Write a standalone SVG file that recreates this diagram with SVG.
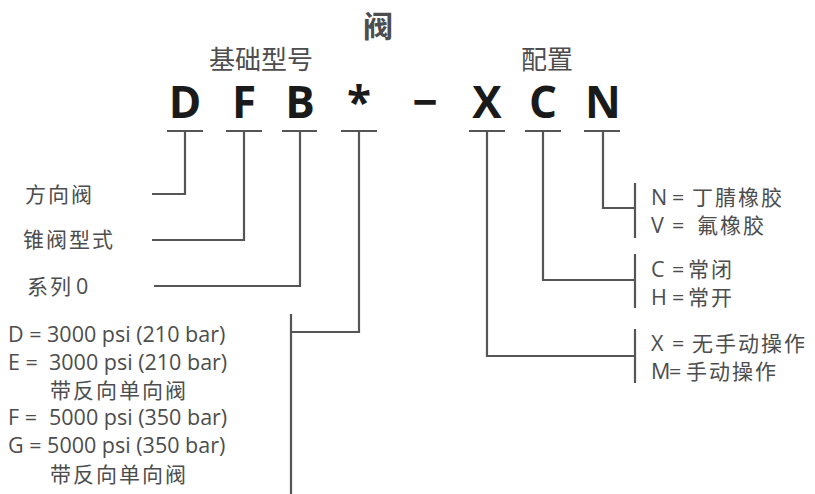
<svg xmlns="http://www.w3.org/2000/svg" width="815" height="494" viewBox="0 0 815 494">
<style>
.ln{stroke:#555;stroke-width:2.2;fill:none}
.t{font-family:"Open Sans","Noto Sans CJK SC",sans-serif;font-size:21.5px;fill:#4d4d4d;white-space:pre}
.c{font-family:"Noto Sans CJK SC",sans-serif;font-size:21px;letter-spacing:2px}
.h{font-family:"Noto Sans CJK SC",sans-serif;font-size:26px;fill:#4d4d4d}
.code{font-family:"Open Sans","Noto Sans CJK SC",sans-serif;font-weight:bold;font-size:44px;fill:#1a1a1a;text-anchor:middle}
</style>
<rect width="815" height="494" fill="#fff"/>
<g id="title"><text x="378" y="37" text-anchor="middle" style="font-family:'Noto Sans CJK SC',sans-serif;font-weight:bold;font-size:30px;fill:#4d4d4d">阀</text></g>
<g id="hdr-base"><text class="h" x="209" y="69">基础型号</text></g>
<g id="hdr-config"><text class="h" x="521" y="69">配置</text></g>
<g id="code">
<text class="code" x="185" y="118">D</text>
<text class="code" x="244" y="118">F</text>
<text class="code" x="300" y="118">B</text>
<text class="code" x="359" y="118">*</text>
<text class="code" x="425" y="118">−</text>
<text class="code" x="487" y="118">X</text>
<text class="code" x="543" y="118">C</text>
<text class="code" x="603" y="118">N</text>
</g>
<g id="connectors">
<path class="ln" d="M167 131H203M185 131V194H152"/>
<path class="ln" d="M226 131H262M244 131V240H152"/>
<path class="ln" d="M282 131H317M300 131V286H154"/>
<path class="ln" d="M341 131H377M359 131V332H291M291 314V494"/>
<path class="ln" d="M469 131H505M487 131V356H635M635 329V383"/>
<path class="ln" d="M525 131H561M543 131V280H635M635 254V308"/>
<path class="ln" d="M584 131H620M603 131V208H635M635 183V238"/>
</g>
<g id="n-dir"><text class="t c" x="25" y="202">方向阀</text></g>
<g id="n-poppet"><text class="t c" x="23" y="247">锥阀型式</text></g>
<g id="n-series"><text class="t" x="27" y="294"><tspan class="c">系列</tspan><tspan x="76">0</tspan></text></g>
<g id="n-pressure">
<text class="t" x="8" y="342">D = 3000 psi (210 bar)</text>
<text class="t" x="8" y="370">E =<tspan x="49">3000 psi (210 bar)</tspan></text>
<text class="t c" x="50" y="398">带反向单向阀</text>
<text class="t" x="8" y="425">F =<tspan x="49">5000 psi (350 bar)</tspan></text>
<text class="t" x="8" y="453">G = 5000 psi (350 bar)</text>
<text class="t c" x="50" y="482">带反向单向阀</text>
</g>
<g id="n-seal">
<text class="t" x="651" y="205">N<tspan x="672">=</tspan><tspan class="c" x="692">丁腈橡胶</tspan></text>
<text class="t" x="651" y="233">V<tspan x="672">=</tspan><tspan class="c" x="697">氟橡胶</tspan></text>
</g>
<g id="n-state">
<text class="t" x="651" y="277">C<tspan x="672">=</tspan><tspan class="c" x="688">常闭</tspan></text>
<text class="t" x="651" y="305">H<tspan x="672">=</tspan><tspan class="c" x="688">常开</tspan></text>
</g>
<g id="n-manual">
<text class="t" x="651" y="351">X<tspan x="672">=</tspan><tspan class="c" x="692">无手动操作</tspan></text>
<text class="t" x="651" y="379">M<tspan x="669">=</tspan><tspan class="c" x="686">手动操作</tspan></text>
</g>
</svg>
